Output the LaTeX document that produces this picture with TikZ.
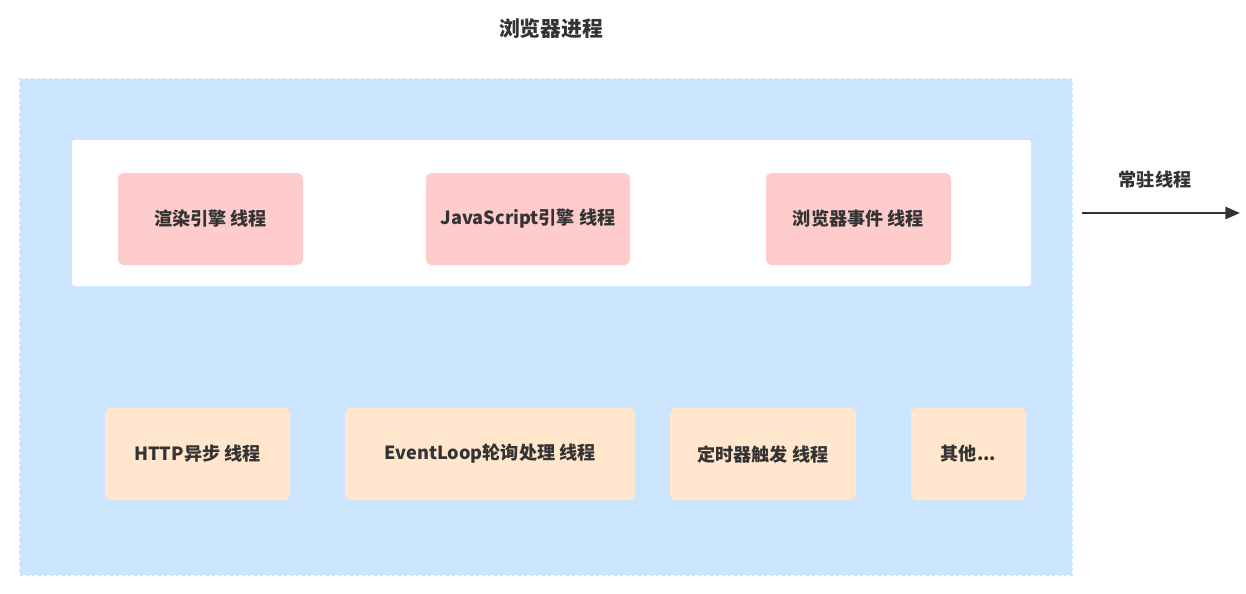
\documentclass[tikz,border=0pt]{standalone}
\usepackage{fontspec}
\setmainfont{Noto Sans CJK SC}
\usepackage{tikz}
\usetikzlibrary{arrows.meta, positioning}
\definecolor{procblue}{HTML}{CCE5FF}
\definecolor{threadpink}{HTML}{FFCCCC}
\definecolor{threadpeach}{HTML}{FFE6CC}
\definecolor{textdark}{HTML}{333333}

\begin{document}
\begin{tikzpicture}[x=0.75pt, y=-0.75pt, every node/.style={font=\bfseries\fontsize{13.6}{16}\selectfont, text=textdark, align=center, inner sep=0pt}]
  \useasboundingbox (0,0) rectangle (1246,593);
  % process frame
  \node[fill=procblue, draw=procblue, line width=1.5pt, dash pattern=on 2.25pt off 2.25pt, minimum width=789pt, minimum height=372pt] (proc) at (546,327) {};
  \node[font=\bfseries\fontsize{15.6}{18}\selectfont] (title) at (551,29) {浏览器进程};
  % resident threads
  \node[fill=white, rounded corners=2pt, minimum width=719.25pt, minimum height=109.5pt] (resident) at (551.5,213) {};
  \node[fill=threadpink, rounded corners=4pt, minimum width=138.75pt, minimum height=69pt] (render) at (210.5,219) {渲染引擎 线程};
  \node[fill=threadpink, rounded corners=4pt, minimum width=153pt, minimum height=69pt] (jsengine) at (528,219) {JavaScript引擎 线程};
  \node[fill=threadpink, rounded corners=4pt, minimum width=138.75pt, minimum height=69pt] (event) at (858.5,219) {浏览器事件 线程};
  % other threads
  \node[fill=threadpeach, rounded corners=4pt, minimum width=138.75pt, minimum height=69pt] (http) at (197.5,454) {HTTP异步 线程};
  \node[fill=threadpeach, rounded corners=4pt, minimum width=217.5pt, minimum height=69pt] (loop) at (490,454) {EventLoop轮询处理 线程};
  \node[fill=threadpeach, rounded corners=4pt, minimum width=139.5pt, minimum height=69pt] (timer) at (763,454) {定时器触发 线程};
  \node[fill=threadpeach, rounded corners=4pt, minimum width=86.25pt, minimum height=69pt] (other) at (968.5,454) {其他...};
  % legend arrow
  \coordinate (arrowstart) at (1082,213);
  \coordinate (arrowend) at (1240,213);
  \node (arrowlabel) at (1155,180) {常驻线程};
  \draw[-{Triangle[length=11pt, width=9pt]}, line width=2pt, draw=textdark] (arrowstart) -- (arrowend);
\end{tikzpicture}
\end{document}
